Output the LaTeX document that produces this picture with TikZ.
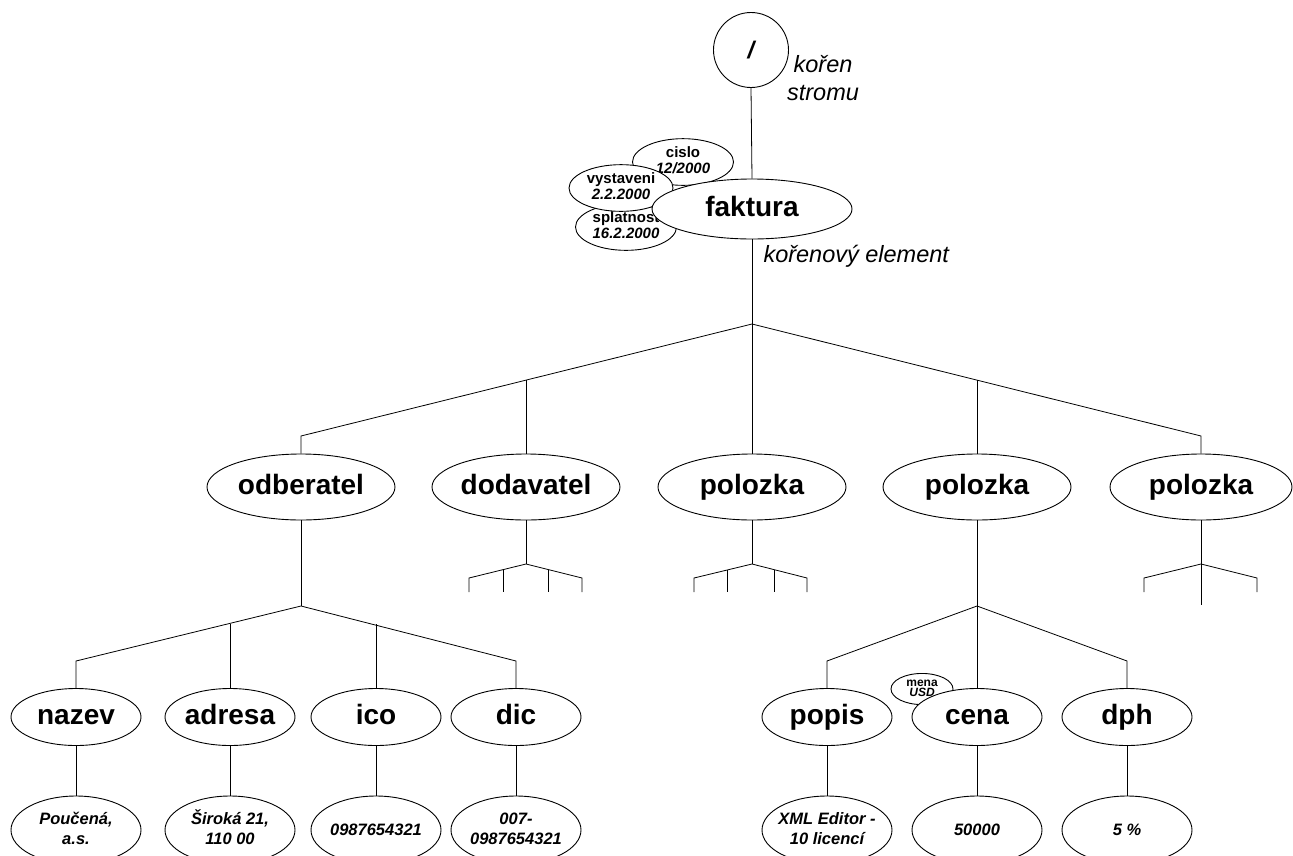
\documentclass[tikz,border=0pt]{standalone}
\usepackage{fontspec}
\setmainfont{Liberation Sans}
\usetikzlibrary{shapes.geometric}
\newcommand{\zz}[1]{\makebox[0pt]{\begin{tabular}{@{}c@{}}#1\end{tabular}}}
\begin{document}
\begin{tikzpicture}[x=1pt,y=-1pt,
  el/.style={draw,ellipse,fill=white,line width=0.9pt,inner sep=0pt},
  lbl/.style={font=\fontsize{28}{30}\selectfont\bfseries,text height=20pt,text depth=6pt},
  big/.style={el,lbl,minimum width=188pt,minimum height=66pt},
  mid/.style={el,lbl,minimum width=130pt,minimum height=57pt},
  val/.style={el,minimum width=130pt,minimum height=68pt,font=\fontsize{16.5}{20}\selectfont\bfseries\itshape},
  att/.style={el,font=\fontsize{15}{17}\selectfont\bfseries},
  ln/.style={line width=0.8pt}]
\useasboundingbox (0,0) rectangle (1293,855);
% root
\node[draw,circle,line width=0.9pt,minimum size=75pt,inner sep=0pt,font=\fontsize{24}{24}\selectfont\bfseries\itshape] (root) at (751,50) {/};
\node[align=center,font=\fontsize{23.5}{28}\selectfont\itshape] (rootlbl) at (823,78) {kořen\\stromu};
% attributes of faktura
\node[att,minimum width=101pt,minimum height=40pt] (cislo) at (683,162) {\zz{cislo\\[-1pt] \itshape 12/2000}};
\node[att,minimum width=101pt,minimum height=38pt] (splat) at (626,227) {\zz{splatnost\\[-1pt] \itshape 16.2.2000}};
\node[att,minimum width=104pt,minimum height=43pt] (vyst) at (621,188) {\zz{vystaveni\\[-1pt] \itshape 2.2.2000}};
\node[el,lbl,minimum width=200pt,minimum height=60pt] (fakt) at (752,209) {faktura};
\node[anchor=west,font=\fontsize{23.5}{26}\selectfont\itshape] (fklbl) at (760,256) {kořenový element};
\draw[ln] (root.south) -- (fakt.north);
% level 1
\coordinate (J0) at (752,324);
\coordinate (L0) at (301,436);
\coordinate (R0) at (1201,436);
\coordinate (M1) at (526,380);
\coordinate (M4) at (977,380);
\node[big] (odb) at (301,487) {odberatel};
\node[big] (dod) at (526,487) {dodavatel};
\node[big] (pol3) at (752,487) {polozka};
\node[big] (pol4) at (977,487) {polozka};
\node[big,minimum width=182pt] (pol5) at (1201,487) {polozka};
\draw[ln] (fakt.south) -- (J0);
\draw[ln] (odb.north) -- (L0) -- (J0) -- (R0) -- (pol5.north);
\draw[ln] (J0) -- (pol3.north);
\draw[ln] (M1) -- (dod.north);
\draw[ln] (M4) -- (pol4.north);
% small fans (children not shown)
\coordinate (dJ) at (526,564);
\coordinate (dA) at (469,578); \coordinate (dA') at (469,592);
\coordinate (dB) at (503,569.5); \coordinate (dB') at (503,592);
\coordinate (dC) at (548,569.5); \coordinate (dC') at (548,592);
\coordinate (dD) at (582,578); \coordinate (dD') at (582,592);
\draw[ln] (dod.south) -- (dJ);
\draw[ln] (dA') -- (dA) -- (dJ) -- (dD) -- (dD');
\draw[ln] (dB) -- (dB'); \draw[ln] (dC) -- (dC');
\coordinate (pJ) at (752,564);
\coordinate (pA) at (694,578); \coordinate (pA') at (694,592);
\coordinate (pB) at (727,570); \coordinate (pB') at (727,592);
\coordinate (pC) at (774,569.5); \coordinate (pC') at (774,592);
\coordinate (pD) at (807,578); \coordinate (pD') at (807,592);
\draw[ln] (pol3.south) -- (pJ);
\draw[ln] (pA') -- (pA) -- (pJ) -- (pD) -- (pD');
\draw[ln] (pB) -- (pB'); \draw[ln] (pC) -- (pC');
\coordinate (qJ) at (1201,564);
\coordinate (qA) at (1144,578); \coordinate (qA') at (1144,592);
\coordinate (qB) at (1257,578); \coordinate (qB') at (1257,592);
\coordinate (qC) at (1201,605);
\draw[ln] (pol5.south) -- (qJ) -- (qC);
\draw[ln] (qA') -- (qA) -- (qJ) -- (qB) -- (qB');
% odberatel children
\coordinate (oJ) at (301,606);
\coordinate (oL) at (76,661);
\coordinate (oR) at (516,661);
\coordinate (oB) at (230,623.5);
\coordinate (oC) at (376,624);
\node[mid] (nazev) at (76,717) {nazev};
\node[mid] (adresa) at (230,717) {adresa};
\node[mid] (ico) at (376,717) {ico};
\node[mid] (dic) at (516,717) {dic};
\draw[ln] (odb.south) -- (oJ);
\draw[ln] (nazev.north) -- (oL) -- (oJ) -- (oR) -- (dic.north);
\draw[ln] (oB) -- (adresa.north);
\draw[ln] (oC) -- (ico.north);
\node[val] (v1) at (76,830) {\zz{Poučená,\\ a.s.}};
\node[val] (v2) at (230,830) {\zz{Široká 21,\\ 110 00}};
\node[val] (v3) at (376,830) {0987654321};
\node[val] (v4) at (516,830) {\zz{007-\\ 0987654321}};
\draw[ln] (nazev.south) -- (v1.north);
\draw[ln] (adresa.south) -- (v2.north);
\draw[ln] (ico.south) -- (v3.north);
\draw[ln] (dic.south) -- (v4.north);
% polozka children
\coordinate (rJ) at (977,606);
\coordinate (rL) at (827,661);
\coordinate (rR) at (1127,661);
\node[mid] (popis) at (827,717) {popis};
\node[att,minimum width=62pt,minimum height=28pt,font=\fontsize{12}{12}\selectfont\bfseries] (mena) at (922,689) {\zz{mena\\[-2pt] \itshape USD}};
\node[mid] (cena) at (977,717) {cena};
\node[mid] (dph) at (1127,717) {dph};
\draw[ln] (pol4.south) -- (rJ) -- (cena.north);
\draw[ln] (popis.north) -- (rL) -- (rJ) -- (rR) -- (dph.north);
\node[val] (w1) at (827,830) {\zz{XML Editor -\\ 10 licencí}};
\node[val] (w2) at (977,830) {50000};
\node[val] (w3) at (1127,830) {5 \%};
\draw[ln] (popis.south) -- (w1.north);
\draw[ln] (cena.south) -- (w2.north);
\draw[ln] (dph.south) -- (w3.north);
\end{tikzpicture}
\end{document}
